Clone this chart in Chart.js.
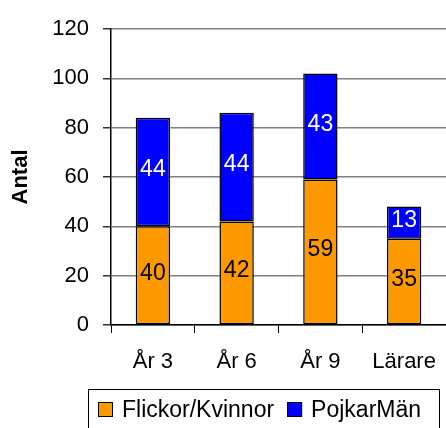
<!DOCTYPE html>
<html>
<head>
<meta charset="utf-8">
<script src="https://cdn.jsdelivr.net/npm/chart.js@4"></script>
<style>
  html, body { margin: 0; padding: 0; background: #fff; overflow: hidden; }
  #wrap { width: 446px; height: 428px; }
</style>
</head>
<body>
<div id="wrap"><canvas id="chart"></canvas></div>
<script>
const categories = ['År 3', 'År 6', 'År 9', 'Lärare'];
const girls = [40, 42, 59, 35];
const boys = [44, 44, 43, 13];
const seriesNames = ['Flickor/Kvinnor', 'PojkarMän'];
const seriesColors = ['#FF9900', '#0000FF'];
const labelColors = ['#000000', '#FFFFFF'];
const yTicks = [0, 20, 40, 60, 80, 100, 120];

const FONT = 'Liberation Sans, Arial, sans-serif';

// values written in the middle of each segment
const segmentLabels = {
  id: 'segmentLabels',
  afterDatasetsDraw(chart) {
    const ctx = chart.ctx;
    ctx.save();
    ctx.font = '23px ' + FONT;
    ctx.textAlign = 'center';
    ctx.textBaseline = 'middle';
    chart.data.datasets.forEach((ds, i) => {
      chart.getDatasetMeta(i).data.forEach((bar, j) => {
        const { x, y, base } = bar.getProps(['x', 'y', 'base'], true);
        ctx.fillStyle = labelColors[i];
        ctx.fillText(ds.data[j], x, (y + base) / 2 - 2);
      });
    });
    ctx.restore();
  }
};

// boxed legend like the old office chart
const boxLegend = {
  id: 'boxLegend',
  afterDraw(chart) {
    const ctx = chart.ctx;
    ctx.save();
    ctx.strokeStyle = '#000';
    ctx.lineWidth = 1;
    ctx.strokeRect(88.5, 389.5, 351, 60);
    ctx.font = '23px ' + FONT;
    ctx.textBaseline = 'middle';
    let x = 98;
    const cy = 410;
    chart.data.datasets.forEach((ds, i) => {
      ctx.fillStyle = ds.backgroundColor;
      ctx.fillRect(x, cy - 8, 15, 15);
      ctx.strokeRect(x + 0.5, cy - 7.5, 14, 14);
      ctx.fillStyle = '#000';
      ctx.fillText(ds.label, x + 24, cy + 1);
      x += 24 + ctx.measureText(ds.label).width + 13;
    });
    ctx.restore();
  }
};

new Chart(document.getElementById('chart'), {
  type: 'bar',
  data: {
    labels: categories,
    datasets: [
      { label: seriesNames[0], data: girls, backgroundColor: seriesColors[0] },
      { label: seriesNames[1], data: boys, backgroundColor: seriesColors[1] }
    ]
  },
  options: {
    responsive: true,
    maintainAspectRatio: false,
    animation: false,
    layout: { padding: { top: 29, right: 0, bottom: 53, left: 0 } },
    datasets: {
      bar: {
        borderColor: '#000',
        borderWidth: 1.5,
        borderSkipped: false,
        categoryPercentage: 1,
        barPercentage: 0.41
      }
    },
    plugins: {
      legend: { display: false },
      tooltip: { enabled: false }
    },
    scales: {
      x: {
        stacked: true,
        afterFit: s => { s.height = 50; s.paddingLeft = 0; s.paddingRight = 0; },
        border: { color: '#000', width: 1.5 },
        grid: {
          offset: true,
          drawOnChartArea: false,
          tickLength: 8,
          color: '#000',
          lineWidth: 1
        },
        ticks: {
          color: '#000',
          padding: 16,
          font: { family: FONT, size: 22 }
        }
      },
      y: {
        stacked: true,
        min: 0,
        max: 120,
        afterFit: s => { s.width = 111; },
        afterBuildTicks: s => { s.ticks = yTicks.map(v => ({ value: v })); },
        border: { color: '#000', width: 1.5 },
        grid: {
          color: '#808080',
          lineWidth: 1.5,
          tickLength: 8,
          tickColor: '#333'
        },
        ticks: {
          color: '#000',
          padding: 14,
          font: { family: FONT, size: 22 }
        },
        title: {
          display: true,
          text: 'Antal',
          color: '#000',
          padding: { top: 8, bottom: 0 },
          font: { family: FONT, size: 22, weight: 'bold' }
        }
      }
    }
  },
  plugins: [segmentLabels, boxLegend]
});
</script>
</body>
</html>
